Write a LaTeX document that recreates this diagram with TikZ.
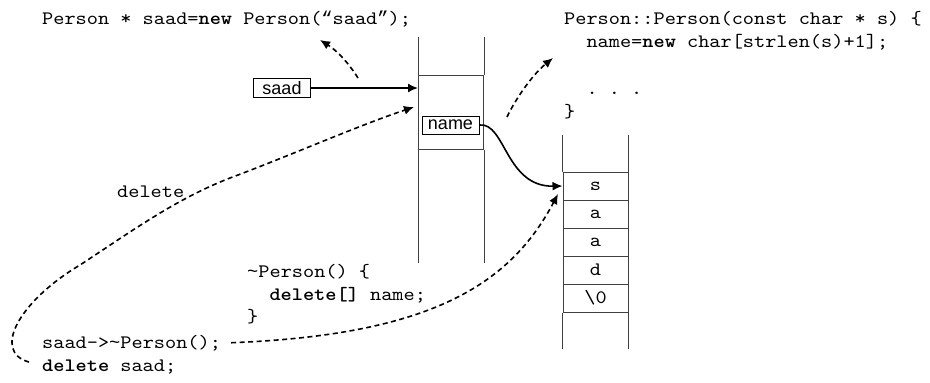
\documentclass[tikz,border=0pt]{standalone}
\usepackage{fontspec}
\setmainfont{Liberation Sans}
\setsansfont{Liberation Sans}
\setmonofont{lmmono10-regular.otf}[FakeStretch=1.12, BoldFont=lmmonolt10-bold.otf]
% curly quotes and a centred tilde, taken from a second typewriter face
\newfontfamily\altmono{Liberation Mono}[Scale=0.983]
\newcommand{\openq}{{\altmono “}}
\newcommand{\closeq}{{\altmono ”}}
\newcommand{\tld}{{\altmono\char"007E}}
\usetikzlibrary{arrows.meta,calc}
\begin{document}
\begin{tikzpicture}[x=1pt,y=-1pt,
  code/.style={font=\fontsize{19}{22}\ttfamily, inner sep=0pt, anchor=base west},
  ptrbox/.style={draw, line width=0.8pt, font=\fontsize{18}{20}\sffamily,
    minimum width=57pt, minimum height=19pt, inner sep=0pt},
  cell/.style={draw=black!75, line width=1pt, minimum width=65pt,
    minimum height=28pt, inner sep=0pt, font=\fontsize{19}{22}\ttfamily},
  wall/.style={draw=black!75, line width=1pt},
  link/.style={line width=1.6pt, -{Latex[length=10pt,width=9pt]}},
  flow/.style={link, dash pattern=on 5pt off 3.5pt},
]
\useasboundingbox (0,0) rectangle (930,383);

% object on the heap
\node[cell, minimum height=74pt] (obj) at (451,112) {};
\draw[wall] (obj.north west) -- ++(0,-38);
\draw[wall] (obj.north east) -- ++(0,-38);
\draw[wall] (obj.south west) -- ++(0,113);
\draw[wall] (obj.south east) -- ++(0,113);

% character array
\node[cell] (c1) at (595.5,186) {s};
\node[cell] (c2) at (595.5,214) {a};
\node[cell] (c3) at (595.5,242) {a};
\node[cell] (c4) at (595.5,270) {d};
\node[cell] (c5) at (595.5,298) {\textbackslash0};
\draw[wall] (c1.north west) -- ++(0,-37);
\draw[wall] (c1.north east) -- ++(0,-37);
\draw[wall] (c5.south west) -- ++(0,36);
\draw[wall] (c5.south east) -- ++(0,36);

% pointers
\node[ptrbox] (saadbox) at (282,88) {saad};
\node[ptrbox, minimum height=18pt] (namebox) at (450.5,125) {name};

% code fragments
\node[code] (newline) at (42,24) {Person * saad=\textbf{new} Person(\openq saad\closeq);};
\node[code] (ctor1) at (564,24) {Person::Person(const char * s) \{};
\node[code] (ctor2) at (564,47) {\phantom{xx}name=\textbf{new} char[strlen(s)+1];};
\node[code] (ctor3) at (564,94) {\phantom{xx}. . .};
\node[code] (ctor4) at (564,117) {\}};
\node[code] (dellabel) at (117,197) {delete};
\node[code] (dtor1) at (247,277) {\tld Person() \{};
\node[code] (dtor2) at (247,300) {\phantom{xx}\textbf{delete[]} name;};
\node[code] (dtor3) at (247,322) {\}};
\node[code] (call) at (42,348) {saad->\tld Person();};
\node[code] (del) at (42,371) {\textbf{delete} saad;};

% solid pointer arrows
\draw[link] (saadbox.east) -- (saadbox.east -| obj.west);
\draw[link] (namebox.east) .. controls +(26,-3) and +(-57,1) .. (c1.west);

% dashed flow arrows
\coordinate (allocfrom) at (358,78);
\coordinate (allocto) at (320,40);
\draw[flow] (allocfrom) .. controls (348,62) and (336,50) .. (allocto);

\coordinate (ctorfrom) at (507,117);
\coordinate (ctorto) at (553,58);
\draw[flow] (ctorfrom) .. controls (515,100) and (532,75) .. (ctorto);

\coordinate (delstart) at (29,362);
\coordinate (objin) at (414,107);
\draw[flow] (delstart) .. controls (-8,352) and (18,302) .. (80,265)
  .. controls (135,229) and (180,196) .. (238,175)
  .. controls (296,153) and (360,125) .. (objin);

\coordinate (strto) at (558,194);
\draw[flow] ([xshift=10pt]call.east) .. controls (430,335) and (510,285) .. (strto);
\end{tikzpicture}
\end{document}
